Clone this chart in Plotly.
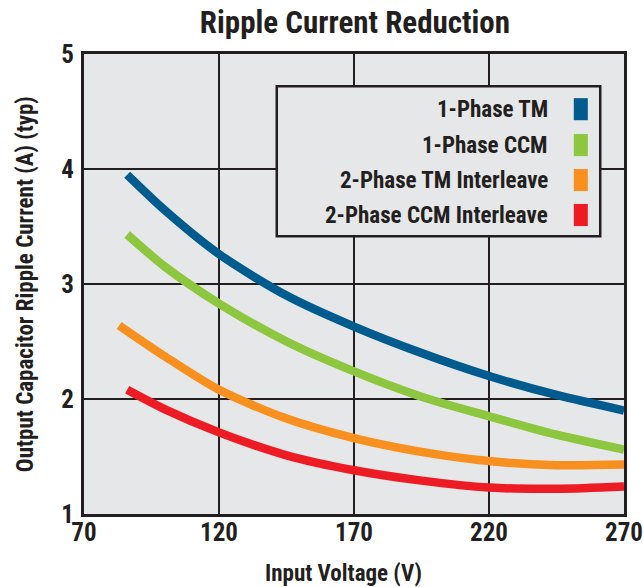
import plotly.graph_objects as go

series_names = ["1-Phase TM", "1-Phase CCM", "2-Phase TM Interleave", "2-Phase CCM Interleave"]
one_phase_tm_x = [86, 100, 120, 145, 170, 195, 220, 245, 270]
one_phase_tm = [3.95, 3.64, 3.26, 2.90, 2.63, 2.40, 2.20, 2.035, 1.90]
one_phase_ccm_x = [86, 100, 120, 145, 170, 195, 220, 245, 270]
one_phase_ccm = [3.43, 3.15, 2.83, 2.50, 2.24, 2.02, 1.85, 1.69, 1.56]
two_phase_tm_x = [83, 100, 120, 145, 170, 195, 220, 245, 270]
two_phase_tm = [2.64, 2.37, 2.08, 1.83, 1.66, 1.54, 1.46, 1.425, 1.43]
two_phase_ccm_x = [86, 100, 120, 145, 170, 195, 220, 245, 270]
two_phase_ccm = [2.08, 1.91, 1.71, 1.51, 1.38, 1.29, 1.23, 1.22, 1.24]
colors = ["#005b8f", "#8dc63f", "#f7901e", "#ed1c24"]
x_ticks = [70, 120, 170, 220, 270]
y_ticks = [1, 2, 3, 4, 5]

FONT = "Roboto Condensed, Liberation Sans Narrow, sans-serif"
DARK = "#231f20"
BG = "#e6e7e8"

fig = go.Figure()
xs = [one_phase_tm_x, one_phase_ccm_x, two_phase_tm_x, two_phase_ccm_x]
ys = [one_phase_tm, one_phase_ccm, two_phase_tm, two_phase_ccm]
for name, x, y, c in zip(series_names, xs, ys, colors):
    fig.add_trace(go.Scatter(x=x, y=y, mode="lines", name=name,
                             line=dict(color=c, width=8.5, shape="spline", smoothing=0.8),
                             showlegend=False, hoverinfo="skip"))

# Custom legend (text right-aligned, swatch on right)
fig.add_shape(type="rect", xref="paper", yref="paper", x0=0.357, x1=0.956, y0=0.604, y1=0.930,
              fillcolor=BG, line=dict(color=DARK, width=2.5), layer="above")
row_y = [0.880, 0.802, 0.726, 0.650]
for name, c, ry in zip(series_names, colors, row_y):
    fig.add_annotation(x=0.863, y=ry, xref="paper", yref="paper", text="<b>%s</b>" % name,
                       showarrow=False, xanchor="right", yanchor="middle",
                       font=dict(family=FONT, size=23, color=DARK))
    fig.add_shape(type="rect", xref="paper", yref="paper", x0=0.907, x1=0.933,
                  y0=ry - 0.024, y1=ry + 0.024, fillcolor=c, line=dict(width=0), layer="above")

# Axis titles
fig.add_annotation(x=-0.109, y=0.5, xref="paper", yref="paper", xanchor="center", yanchor="middle",
                   text="<b>Output Capacitor Ripple Current (A) (typ)</b>", textangle=-90,
                   showarrow=False, font=dict(family=FONT, size=23, color=DARK))
fig.add_annotation(x=0.48, y=-0.13, xref="paper", yref="paper", xanchor="center", yanchor="middle",
                   text="<b>Input Voltage (V)</b>",
                   showarrow=False, font=dict(family=FONT, size=23, color=DARK))

fig.update_layout(
    width=643, height=587,
    margin=dict(l=84, r=19, t=54, b=73),
    paper_bgcolor="white", plot_bgcolor=BG,
    title=dict(text="<b>Ripple Current Reduction</b>", x=0.552, xanchor="center",
               y=0.962, yanchor="middle", font=dict(family=FONT, size=31, color=DARK)),
    font=dict(family=FONT, color=DARK),
)
fig.update_xaxes(range=[70, 270], tickvals=x_ticks, ticktext=["<b>%d</b>" % v for v in x_ticks],
                 tickfont=dict(family=FONT, size=25, color=DARK), automargin=False,
                 ticklabeloverflow="allow", ticklabelstandoff=-6,
                 showgrid=True, gridcolor=DARK, gridwidth=2,
                 showline=True, linecolor=DARK, linewidth=3, mirror=True,
                 zeroline=False, ticks="", ticklen=0)
fig.update_yaxes(range=[1, 5], tickvals=y_ticks, ticktext=["<b>%d</b>" % v for v in y_ticks],
                 tickfont=dict(family=FONT, size=25, color=DARK), automargin=False,
                 ticklabeloverflow="allow", ticklabelstandoff=2,
                 showgrid=True, gridcolor=DARK, gridwidth=2,
                 showline=True, linecolor=DARK, linewidth=3, mirror=True,
                 zeroline=False, ticks="", ticklen=0)

fig.write_html("out.html", config={"displayModeBar": False},
               post_script="document.body.style.margin='0';document.body.style.overflow='hidden';")
